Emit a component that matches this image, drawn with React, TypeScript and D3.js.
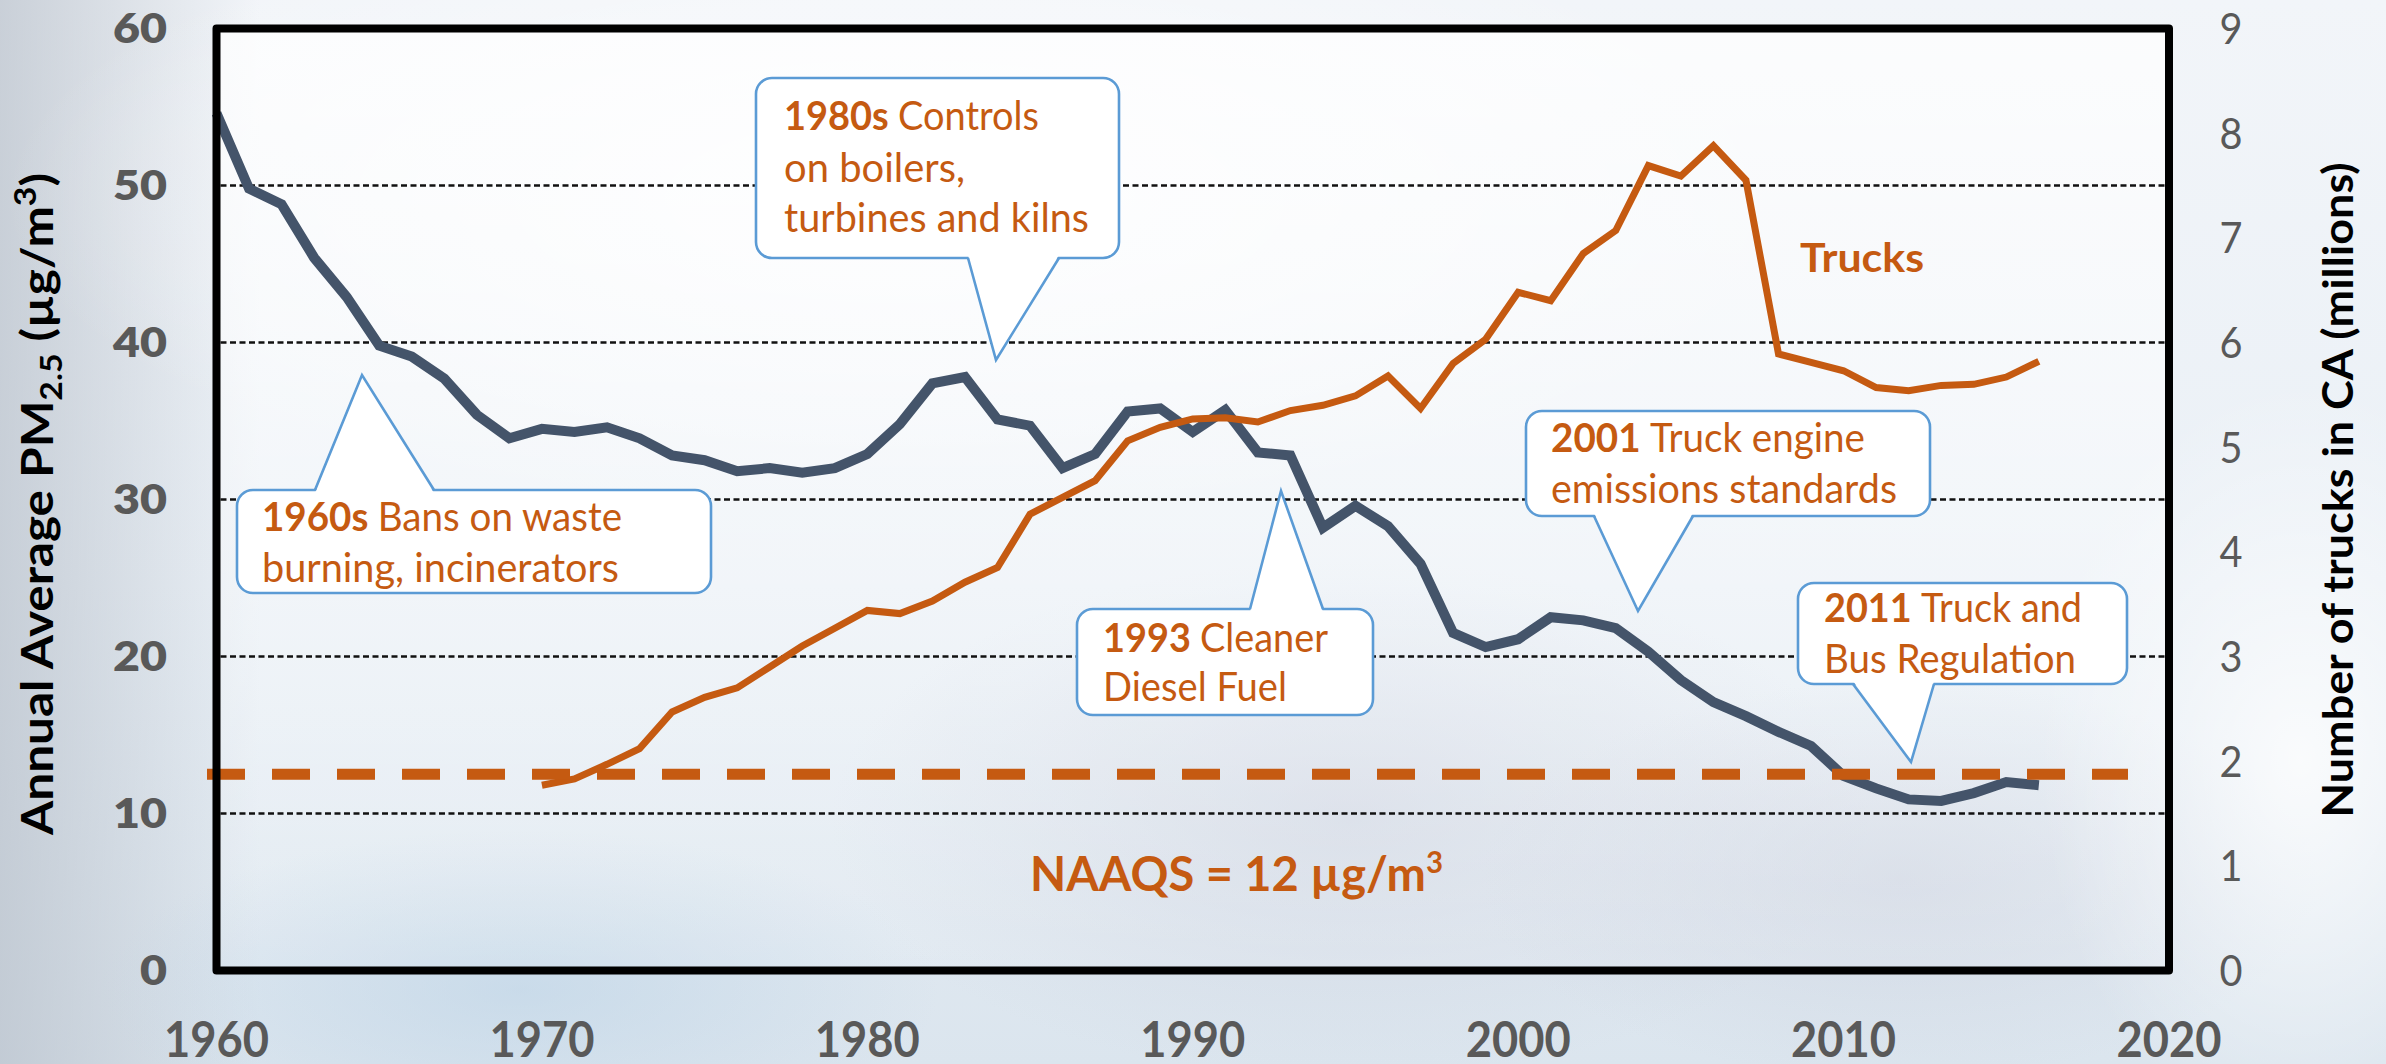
import React from 'react';
import * as d3 from 'd3';

// ---------- DATA ----------
const pmYears = [
  1960, 1961, 1962, 1963, 1964, 1965, 1966, 1967, 1968, 1969,
  1970, 1971, 1972, 1973, 1974, 1975, 1976, 1977, 1978, 1979,
  1980, 1981, 1982, 1983, 1984, 1985, 1986, 1987, 1988, 1989,
  1990, 1991, 1992, 1993, 1994, 1995, 1996, 1997, 1998, 1999,
  2000, 2001, 2002, 2003, 2004, 2005, 2006, 2007, 2008, 2009,
  2010, 2011, 2012, 2013, 2014, 2015, 2016,
];
const pmValues = [
  54.6, 49.8, 48.8, 45.4, 42.9, 39.8, 39.1, 37.7, 35.4, 33.9,
  34.5, 34.3, 34.6, 33.9, 32.8, 32.5, 31.8, 32.0, 31.7, 32.0,
  32.9, 34.8, 37.4, 37.8, 35.1, 34.7, 32.0, 32.9, 35.6, 35.8,
  34.3, 35.7, 33.0, 32.8, 28.2, 29.6, 28.3, 25.9, 21.5, 20.6,
  21.1, 22.5, 22.3, 21.8, 20.3, 18.5, 17.1, 16.2, 15.2, 14.3,
  12.4, 11.6, 10.9, 10.8, 11.3, 12.0, 11.8,
];
const truckYears = [
  1970, 1971, 1972, 1973, 1974, 1975, 1976, 1977, 1978, 1979,
  1980, 1981, 1982, 1983, 1984, 1985, 1986, 1987, 1988, 1989,
  1990, 1991, 1992, 1993, 1994, 1995, 1996, 1997, 1998, 1999,
  2000, 2001, 2002, 2003, 2004, 2005, 2006, 2007, 2008, 2009,
  2010, 2011, 2012, 2013, 2014, 2015, 2016,
];
const truckValues = [
  1.77, 1.83, 1.97, 2.12, 2.47, 2.61, 2.70, 2.90, 3.10, 3.27,
  3.44, 3.41, 3.53, 3.71, 3.85, 4.36, 4.52, 4.68, 5.06, 5.19,
  5.27, 5.28, 5.24, 5.35, 5.40, 5.49, 5.68, 5.37, 5.80, 6.03,
  6.48, 6.40, 6.85, 7.07, 7.69, 7.59, 7.88, 7.55, 5.89, 5.81,
  5.73, 5.57, 5.54, 5.59, 5.60, 5.67, 5.82,
];
const leftTicks = [0, 10, 20, 30, 40, 50, 60];
const rightTicks = [0, 1, 2, 3, 4, 5, 6, 7, 8, 9];
const xTicks = [1960, 1970, 1980, 1990, 2000, 2010, 2020];
const gridValues = [10, 20, 30, 40, 50];
const naaqsLevel = 12.5;

// ---------- LAYOUT ----------
const W = 2386;
const H = 1064;
const P = { left: 216.5, right: 2169, top: 28.5, bottom: 970.5 };
const ORANGE = '#C55A11';
const SLATE = '#44546A';
const BLUE = '#5B9BD5';
const GREY = '#595959';
const FONT = "Lato, Carlito, 'Open Sans', sans-serif";

type Line = { bold?: string; rest: string; x: number; y: number; w: number };
type CalloutSpec = {
  box: [number, number, number, number];
  side: 'top' | 'bottom';
  base: [number, number];
  tip: [number, number];
  lines: Line[];
};

const callouts: CalloutSpec[] = [
  {
    box: [237, 490, 711, 593], side: 'top', base: [315, 434], tip: [362, 375],
    lines: [
      { bold: '1960s', rest: 'Bans on waste', x: 262, y: 531, w: 360 },
      { rest: 'burning, incinerators', x: 262, y: 582, w: 357 },
    ],
  },
  {
    box: [756, 78, 1119, 258], side: 'bottom', base: [968, 1059], tip: [996, 360],
    lines: [
      { bold: '1980s', rest: 'Controls', x: 784, y: 130, w: 255 },
      { rest: 'on boilers,', x: 784, y: 182, w: 181 },
      { rest: 'turbines and kilns', x: 784, y: 232, w: 305 },
    ],
  },
  {
    box: [1077, 609, 1373, 715], side: 'top', base: [1250, 1323], tip: [1281, 491],
    lines: [
      { bold: '1993', rest: 'Cleaner', x: 1103, y: 652, w: 225 },
      { rest: 'Diesel Fuel', x: 1103, y: 701, w: 184 },
    ],
  },
  {
    box: [1526, 411, 1930, 516], side: 'bottom', base: [1594, 1693], tip: [1638, 611],
    lines: [
      { bold: '2001', rest: 'Truck engine', x: 1551, y: 452, w: 314 },
      { rest: 'emissions standards', x: 1551, y: 503, w: 346 },
    ],
  },
  {
    box: [1798, 583, 2127, 684], side: 'bottom', base: [1853, 1934], tip: [1911, 762],
    lines: [
      { bold: '2011', rest: 'Truck and', x: 1824, y: 622, w: 258 },
      { rest: 'Bus Regulation', x: 1824, y: 673, w: 252 },
    ],
  },
];

function Callout({ c }: { c: CalloutSpec }) {
  const [x0, y0, x1, y1] = c.box;
  const edge = c.side === 'top' ? y0 : y1;
  const inward = c.side === 'top' ? 3 : -3;
  return (
    <g>
      <rect x={x0} y={y0} width={x1 - x0} height={y1 - y0} rx={16} ry={16}
        fill="#ffffff" stroke={BLUE} strokeWidth={2.6} />
      <polygon
        points={`${c.base[0]},${edge + inward} ${c.tip[0]},${c.tip[1]} ${c.base[1]},${edge + inward}`}
        fill="#ffffff" stroke="none" />
      <polyline
        points={`${c.base[0]},${edge} ${c.tip[0]},${c.tip[1]} ${c.base[1]},${edge}`}
        fill="none" stroke={BLUE} strokeWidth={2.6} strokeLinejoin="miter" />
      {c.lines.map((l, i) => (
        <text key={i} x={l.x} y={l.y} fontSize={41} fill={ORANGE} fontFamily={FONT}
          textLength={l.w} lengthAdjust="spacingAndGlyphs">
          {l.bold ? <tspan fontWeight={700}>{l.bold + ' '}</tspan> : null}
          {l.rest}
        </text>
      ))}
    </g>
  );
}

export default function App() {
  const x = d3.scaleLinear().domain([1960, 2020]).range([P.left, P.right]);
  const yL = d3.scaleLinear().domain([0, 60]).range([P.bottom, P.top]);
  const yR = d3.scaleLinear().domain([0, 9]).range([P.bottom, P.top]);

  const pmPath = d3.line<number>()
    .x((_, i) => x(pmYears[i]))
    .y((d) => yL(d))(pmValues) || '';
  const truckPath = d3.line<number>()
    .x((_, i) => x(truckYears[i]))
    .y((d) => yR(d))(truckValues) || '';

  return (
    <svg width={W} height={H} viewBox={`0 0 ${W} ${H}`}
      style={{ position: 'absolute', left: 0, top: 0, display: 'block' }}>
      <defs>
        <linearGradient id="bgv" x1="0" y1="0" x2="0" y2="1">
          <stop offset="0" stopColor="#f2f5f9" />
          <stop offset="0.55" stopColor="#eaf0f6" />
          <stop offset="1" stopColor="#dbe5ee" />
        </linearGradient>
        <radialGradient id="bl" cx="0" cy="1" r="0.45" gradientUnits="objectBoundingBox"
          gradientTransform="translate(0,1) scale(1,2.24) translate(0,-1)">
          <stop offset="0" stopColor="#9aa4b3" stopOpacity="0.85" />
          <stop offset="0.5" stopColor="#aab4c2" stopOpacity="0.45" />
          <stop offset="1" stopColor="#c0c8d3" stopOpacity="0" />
        </radialGradient>
        <linearGradient id="leftEdge" x1="0" y1="0" x2="1" y2="0">
          <stop offset="0" stopColor="#b8c0ca" stopOpacity="0.7" />
          <stop offset="1" stopColor="#b8c0ca" stopOpacity="0" />
        </linearGradient>
        <radialGradient id="midgrey" cx="0.5" cy="0.5" r="0.5">
          <stop offset="0" stopColor="#c9cedc" stopOpacity="0.55" />
          <stop offset="1" stopColor="#c9cedc" stopOpacity="0" />
        </radialGradient>
        <radialGradient id="bluebot" cx="0.5" cy="0.5" r="0.5">
          <stop offset="0" stopColor="#bcd3e6" stopOpacity="0.6" />
          <stop offset="1" stopColor="#bcd3e6" stopOpacity="0" />
        </radialGradient>
        <radialGradient id="whiteglow" cx="0.5" cy="0.5" r="0.5">
          <stop offset="0" stopColor="#ffffff" stopOpacity="0.8" />
          <stop offset="1" stopColor="#ffffff" stopOpacity="0" />
        </radialGradient>
        <linearGradient id="plotfill" x1="0" y1="0" x2="0" y2="1">
          <stop offset="0" stopColor="#ffffff" stopOpacity="0.75" />
          <stop offset="0.6" stopColor="#ffffff" stopOpacity="0.35" />
          <stop offset="1" stopColor="#ffffff" stopOpacity="0.1" />
        </linearGradient>
      </defs>

      {/* background */}
      <rect x={0} y={0} width={W} height={H} fill="url(#bgv)" />
      <rect x={0} y={0} width={260} height={H} fill="url(#leftEdge)" />
      <ellipse cx={40} cy={1000} rx={380} ry={420} fill="url(#bl)" />
      <ellipse cx={520} cy={990} rx={420} ry={160} fill="url(#bluebot)" />
      <ellipse cx={1350} cy={820} rx={520} ry={260} fill="url(#midgrey)" />
      <ellipse cx={1900} cy={880} rx={420} ry={200} fill="url(#midgrey)" />
      <ellipse cx={2300} cy={760} rx={260} ry={380} fill="url(#whiteglow)" />
      <ellipse cx={900} cy={200} rx={900} ry={320} fill="url(#whiteglow)" />

      {/* plot area wash */}
      <rect x={P.left} y={P.top} width={P.right - P.left} height={P.bottom - P.top} fill="url(#plotfill)" />

      {/* gridlines */}
      {gridValues.map((v) => (
        <line key={v} x1={P.left + 4} x2={P.right - 4} y1={yL(v)} y2={yL(v)}
          stroke="#111" strokeWidth={2.5} strokeDasharray="6 3.5" />
      ))}

      {/* data lines */}
      <path d={pmPath} fill="none" stroke={SLATE} strokeWidth={10} strokeLinejoin="miter" strokeMiterlimit={3} />
      <path d={truckPath} fill="none" stroke={ORANGE} strokeWidth={7} strokeLinejoin="miter" strokeMiterlimit={4} />

      {/* NAAQS line */}
      <line x1={207} x2={2128} y1={yL(naaqsLevel)} y2={yL(naaqsLevel)}
        stroke={ORANGE} strokeWidth={11} strokeDasharray="38 27" />

      {/* frame */}
      <rect x={P.left} y={P.top} width={P.right - P.left} height={P.bottom - P.top}
        fill="none" stroke="#000" strokeWidth={8} strokeLinejoin="round" />

      {/* callouts */}
      {callouts.map((c, i) => <Callout key={i} c={c} />)}

      {/* labels */}
      <text x={1800} y={272} fontSize={41} fontWeight={700} fill={ORANGE} fontFamily={FONT}
        textLength={124} lengthAdjust="spacingAndGlyphs">Trucks</text>
      <text x={1030} y={891} fontSize={48} fontWeight={700} fill={ORANGE} fontFamily={FONT}
        textLength={413} lengthAdjust="spacingAndGlyphs">
        NAAQS = 12 µg/m<tspan dy={-18} fontSize={30}>3</tspan>
      </text>

      {/* left ticks */}
      {leftTicks.map((v) => (
        <text key={v} x={167} y={yL(v)} dy={14.5} textAnchor="end" fontSize={41} fontWeight={800}
          fill={GREY} fontFamily={FONT} textLength={String(v).length * 27} lengthAdjust="spacingAndGlyphs">
          {v}
        </text>
      ))}

      {/* right ticks */}
      {rightTicks.map((v) => (
        <text key={v} x={2231} y={yR(v)} dy={15.5} textAnchor="middle" fontSize={43}
          fill={GREY} fontFamily={FONT} textLength={23} lengthAdjust="spacingAndGlyphs">
          {v}
        </text>
      ))}

      {/* x ticks */}
      {xTicks.map((v) => (
        <text key={v} x={x(v)} y={1057} textAnchor="middle" fontSize={49} fontWeight={700}
          fill={GREY} fontFamily={FONT} textLength={105} lengthAdjust="spacingAndGlyphs">
          {v}
        </text>
      ))}

      {/* axis titles */}
      <text transform="translate(53,504) rotate(-90)" textAnchor="middle" fontSize={44} fontWeight={700}
        fill="#000" fontFamily={FONT} textLength={662} lengthAdjust="spacingAndGlyphs">
        Annual Average PM<tspan dy={9} fontSize={30}>2.5</tspan><tspan dy={-9}> (µg/m</tspan><tspan dy={-17} fontSize={30}>3</tspan><tspan dy={17}>)</tspan>
      </text>
      <text transform="translate(2353,490) rotate(-90)" textAnchor="middle" fontSize={42} fontWeight={700}
        fill="#000" fontFamily={FONT} textLength={655} lengthAdjust="spacingAndGlyphs">
        Number of trucks in CA (millions)
      </text>
    </svg>
  );
}
